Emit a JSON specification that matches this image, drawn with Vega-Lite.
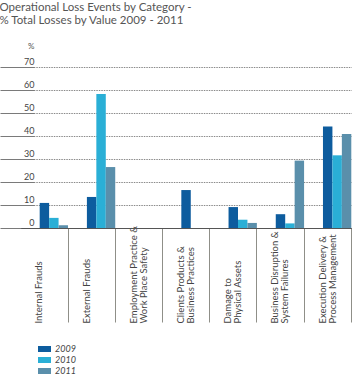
{
  "$schema": "https://vega.github.io/schema/vega-lite/v6.json",
  "width": 323,
  "height": 161,
  "autosize": {"type": "none"},
  "padding": {"left": 38, "top": 67, "right": 0, "bottom": 147},
  "background": "white",
  "title": {
    "text": ["Operational Loss Events by Category -", "% Total Losses by Value 2009 - 2011"],
    "anchor": "start",
    "frame": "bounds",
    "font": "Lato",
    "fontSize": 11.5,
    "fontWeight": "normal",
    "color": "#555555",
    "lineHeight": 12.5,
    "offset": 16
  },
  "config": {
    "view": {"stroke": null},
    "font": "Lato"
  },
  "data": {
    "values": [
      {"category": "Internal Frauds", "year": "2009", "value": 10.9},
      {"category": "Internal Frauds", "year": "2010", "value": 4.4},
      {"category": "Internal Frauds", "year": "2011", "value": 1.2},
      {"category": "External Frauds", "year": "2009", "value": 13.5},
      {"category": "External Frauds", "year": "2010", "value": 58.3},
      {"category": "External Frauds", "year": "2011", "value": 26.5},
      {"category": "Employment Practice &|Work Place Safety", "year": "2009", "value": 0},
      {"category": "Employment Practice &|Work Place Safety", "year": "2010", "value": 0},
      {"category": "Employment Practice &|Work Place Safety", "year": "2011", "value": 0},
      {"category": "Clients Products &|Business Practices", "year": "2009", "value": 16.5},
      {"category": "Clients Products &|Business Practices", "year": "2010", "value": 0},
      {"category": "Clients Products &|Business Practices", "year": "2011", "value": 0},
      {"category": "Damage to|Physical Assets", "year": "2009", "value": 9.1},
      {"category": "Damage to|Physical Assets", "year": "2010", "value": 3.6},
      {"category": "Damage to|Physical Assets", "year": "2011", "value": 2.2},
      {"category": "Business Disruption &|System Failures", "year": "2009", "value": 6.0},
      {"category": "Business Disruption &|System Failures", "year": "2010", "value": 2.0},
      {"category": "Business Disruption &|System Failures", "year": "2011", "value": 29.3},
      {"category": "Execution Delivery &|Process Management", "year": "2009", "value": 44.1},
      {"category": "Execution Delivery &|Process Management", "year": "2010", "value": 31.6},
      {"category": "Execution Delivery &|Process Management", "year": "2011", "value": 40.9}
    ]
  },
  "mark": {"type": "bar"},
  "encoding": {
    "x": {
      "field": "category",
      "type": "nominal",
      "sort": null,
      "scale": {"range": [-17.2, 313.3], "paddingInner": 0, "paddingOuter": 0},
      "axis": {
        "title": null,
        "bandPosition": 1,
        "zindex": 1,
        "domainColor": "#555555",
        "domainWidth": 1,
        "tickColor": "#8f8f88",
        "tickSize": 94,
        "tickWidth": 1,
        "labelAngle": -90,
        "labelAlign": "left",
        "labelBaseline": "bottom",
        "labelPadding": 1,
        "labelOffset": 0,
        "labelFont": "Lato",
        "labelFontSize": 9.5,
        "labelColor": "#444444",
        "labelLineHeight": 10,
        "labelExpr": "split(datum.label, '|')",
        "labelOverlap": false,
        "labelLimit": 200
      }
    },
    "xOffset": {
      "field": "year",
      "type": "nominal",
      "scale": {"paddingInner": 0, "paddingOuter": 1.62, "align": 1}
    },
    "y": {
      "field": "value",
      "type": "quantitative",
      "scale": {"domain": [0, 70], "nice": false},
      "axis": {
        "title": "%",
        "titleAngle": 0,
        "titleAlign": "right",
        "titleBaseline": "alphabetic",
        "titleX": 0,
        "titleY": -19,
        "titleFont": "Lato",
        "titleFontSize": 8,
        "titleFontWeight": "normal",
        "titleColor": "#555555",
        "values": [0, 10, 20, 30, 40, 50, 60, 70],
        "offset": 4,
        "domain": false,
        "tickSize": 34,
        "tickColor": "#7a7a7a",
        "tickWidth": 1,
        "labelPadding": -34,
        "labelAlign": "right",
        "labelBaseline": "bottom",
        "labelOffset": -1,
        "labelFont": "Lato",
        "labelFontSize": 9,
        "labelColor": "#444444",
        "grid": true,
        "gridColor": "#8a8a8a",
        "gridDash": [1.5, 1],
        "gridWidth": 1
      }
    },
    "color": {
      "field": "year",
      "type": "nominal",
      "scale": {"domain": ["2009", "2010", "2011"], "range": ["#0d5c9e", "#2aafd6", "#5a8fab"]},
      "legend": {
        "title": null,
        "orient": "none",
        "legendX": 1.5,
        "legendY": 277,
        "padding": 0,
        "symbolType": "M-1.3,-0.6H1.3V0.6H-1.3Z",
        "symbolSize": 100,
        "symbolStrokeWidth": 0,
        "symbolOpacity": 1,
        "labelFont": "Lato",
        "labelFontSize": 9,
        "labelFontStyle": "italic",
        "labelColor": "#444444",
        "labelOffset": 5.5,
        "rowPadding": 1
      }
    }
  }
}
